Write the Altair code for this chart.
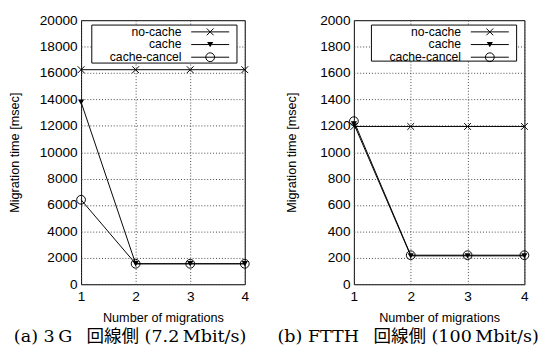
import altair as alt
import pandas as pd

# ---- data ----
x_vals = [1, 2, 3, 4]
series = ["no-cache", "cache", "cache-cancel"]

a_nocache = [16250, 16250, 16250, 16250]
a_cache = [13800, 1550, 1550, 1550]
a_cancel = [6400, 1550, 1550, 1550]

b_nocache = [1195, 1195, 1195, 1195]
b_cache = [1215, 215, 215, 215]
b_cancel = [1235, 220, 220, 220]

a_yticks = [0, 2000, 4000, 6000, 8000, 10000, 12000, 14000, 16000, 18000, 20000]
b_yticks = [0, 200, 400, 600, 800, 1000, 1200, 1400, 1600, 1800, 2000]

captions = [
    "(a) 3\u2009G\u2002 回線側 (7.2\u2009Mbit/s)",
    "(b) FTTH\u2002 回線側 (100\u2009Mbit/s)",
]

CROSS = "M-1,-1L1,1M-1,1L1,-1"
H = 271
SANS = "Liberation Sans"


def marker(kind):
    if kind == "no-cache":
        return dict(shape=CROSS, size=49, filled=False, color="black", strokeWidth=1, opacity=1)
    if kind == "cache":
        return dict(shape="triangle-down", size=40, filled=True, color="black", opacity=1)
    return dict(shape="circle", size=81, filled=False, color="black", strokeWidth=1, opacity=1)


def panel(vals, yticks, caption, W, title_pad, legend_bottom):
    df = pd.DataFrame({
        "x": x_vals * 3,
        "y": vals[0] + vals[1] + vals[2],
        "s": [s for s in series for _ in x_vals],
    })
    x = alt.X("x:Q", scale=alt.Scale(domain=[1, 4], nice=False, zero=False),
              axis=alt.Axis(values=x_vals, format="d", title="Number of migrations"))
    y = alt.Y("y:Q", scale=alt.Scale(domain=[yticks[0], yticks[-1]], nice=False, zero=False),
              axis=alt.Axis(values=yticks, format="d", title="Migration time [msec]",
                            titlePadding=title_pad))
    base = alt.Chart(df)
    layers = [base.mark_line(color="black", strokeWidth=1).encode(x=x, y=y, detail="s:N")]
    for s in series:
        layers.append(
            base.transform_filter(alt.datum.s == s).mark_point(**marker(s)).encode(x=x, y=y)
        )
    one = alt.Data(values=[{}])
    layers.append(
        alt.Chart(one).mark_rect(fill="white", stroke="black", strokeWidth=1).encode(
            x=alt.value(W - 157), x2=alt.value(W - 8), y=alt.value(5), y2=alt.value(legend_bottom))
    )
    for i, s in enumerate(series):
        ry = 12 + 13 * i
        layers.append(
            alt.Chart(one).mark_text(text=s, align="right", baseline="middle", font=SANS,
                                     fontSize=12.5, color="black").encode(
                x=alt.value(W - 65), y=alt.value(ry))
        )
        layers.append(
            alt.Chart(one).mark_rule(color="black", strokeWidth=1).encode(
                x=alt.value(W - 55), x2=alt.value(W - 16), y=alt.value(ry))
        )
        layers.append(
            alt.Chart(one).mark_point(**marker(s)).encode(x=alt.value(W - 35.5), y=alt.value(ry))
        )
    return alt.layer(*layers).properties(
        width=W, height=H,
        title=alt.TitleParams(caption, orient="bottom", anchor="middle", frame="bounds",
                              font="DejaVu Serif, Noto Sans CJK JP", fontSize=18,
                              fontWeight="normal", color="black", offset=4),
    )


left = panel([a_nocache, a_cache, a_cancel], a_yticks, captions[0], 168, 18, 44)
right = panel([b_nocache, b_cache, b_cancel], b_yticks, captions[1], 175, 22, 42)

chart = alt.hconcat(left, right, spacing=25).properties(padding=0).configure_axis(
    labelFont=SANS, labelFontSize=14, labelColor="black",
    titleFont=SANS, titleFontSize=13, titleFontWeight="normal", titleColor="black",
    domain=False, ticks=False, labelPadding=4, labelFlush=False,
    grid=True, gridColor="#444444", gridDash=[1, 2], gridWidth=1, gridOpacity=1,
).configure_axisX(labelPadding=6, titlePadding=8).configure_view(
    stroke="black", strokeWidth=1
)

chart.save("out.html", embed_options={"renderer": "svg", "actions": False})
